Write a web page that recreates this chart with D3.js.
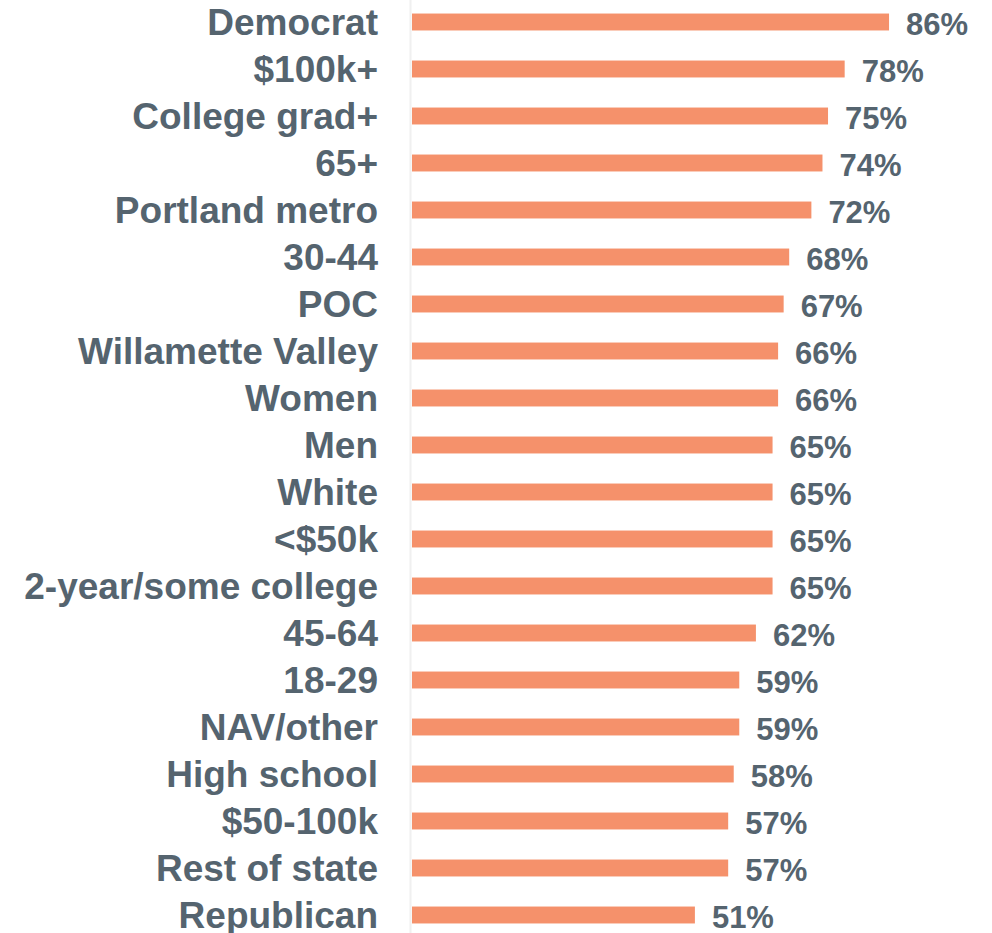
<!DOCTYPE html>
<html>
<head>
<meta charset="utf-8">
<script src="https://cdn.jsdelivr.net/npm/d3@7"></script>
<style>
  body { margin: 0; background: #fff; }
  svg { display: block; font-family: "Liberation Sans", Arial, sans-serif; font-weight: bold; }
</style>
</head>
<body>
<div id="chart"></div>
<script>
// categories, top to bottom
const categories = [
    "Democrat", "$100k+", "College grad+", "65+", "Portland metro", "30-44", "POC",
    "Willamette Valley", "Women", "Men", "White", "<$50k", "2-year/some college",
    "45-64", "18-29", "NAV/other", "High school", "$50-100k", "Rest of state", "Republican"
];
const values = [86, 78, 75, 74, 72, 68, 67, 66, 66, 65, 65, 65, 65, 62, 59, 59, 58, 57, 57, 51];

const width = 992, height = 933;
const textColor = "#55646f";
const barColor = "#f5916b";

const svg = d3.select("#chart").append("svg")
    .attr("width", width)
    .attr("height", height);

const x = d3.scaleLinear().domain([0, 100]).range([412, 412 + 554.7]);
const y = d3.scaleBand()
    .domain(categories)
    .range([-1.5, 938.5])
    .paddingInner(0.64)
    .paddingOuter(0.32);

// faint baseline
svg.append("line")
    .attr("x1", 410.5).attr("x2", 410.5)
    .attr("y1", 0).attr("y2", height)
    .attr("stroke", "#f0f0f0")
    .attr("stroke-width", 2);

const rows = svg.selectAll("g.row")
    .data(categories.map((c, i) => ({name: c, value: values[i]})))
    .join("g")
    .attr("class", "row");

rows.append("rect")
    .attr("x", x(0))
    .attr("y", d => y(d.name))
    .attr("width", d => x(d.value) - x(0))
    .attr("height", y.bandwidth())
    .attr("fill", barColor);

rows.append("text")
    .attr("x", 378)
    .attr("y", d => y(d.name) + y.bandwidth() / 2 + 12.5)
    .attr("text-anchor", "end")
    .attr("fill", textColor)
    .style("font-size", "37px")
    .text(d => d.name);

rows.append("text")
    .attr("x", d => x(d.value) + 17)
    .attr("y", d => y(d.name) + y.bandwidth() / 2 + 13)
    .attr("fill", textColor)
    .style("font-size", "31px")
    .text(d => d.value + "%");
</script>
</body>
</html>
